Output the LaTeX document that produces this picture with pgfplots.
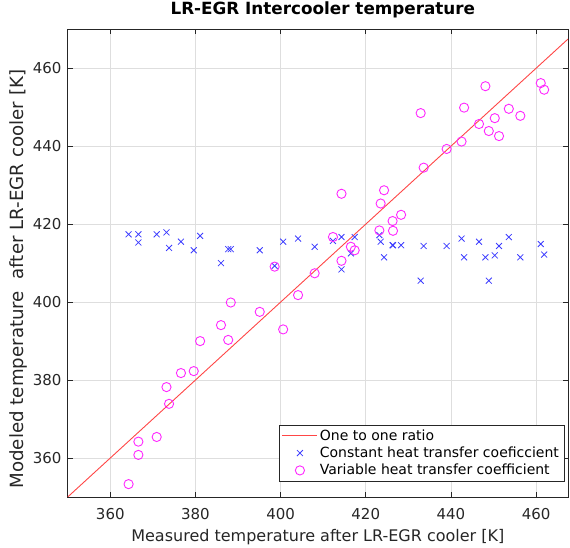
\documentclass[border=0pt]{standalone}
\usepackage{fontspec}
\setmainfont{DejaVu Sans}
\usepackage{pgfplots}
\pgfplotsset{compat=1.18}
\definecolor{axgray}{RGB}{38,38,38}
\definecolor{gridgray}{RGB}{222,222,222}
\definecolor{lineRed}{RGB}{255,70,70}
\definecolor{crossBlue}{RGB}{60,60,255}
\definecolor{circMag}{RGB}{255,40,255}
\pgfplotsset{
  mylineleg/.style={legend image code/.code={\draw[##1] (0pt,0pt) -- (35pt,0pt);}},
  mymarkleg/.style={legend image code/.code={\draw[##1] plot coordinates {(17.5pt,0pt)};}},
}
\begin{document}
\begin{tikzpicture}
\useasboundingbox (-67.7pt,-51pt) rectangle (502.3pt,497pt);
\begin{axis}[
  at={(0pt,0pt)}, anchor=south west,
  scale only axis,
  width=500.3pt, height=467.7pt,
  xmin=350, xmax=467.5, ymin=350, ymax=470,
  xtick={360,380,...,460}, ytick={360,380,...,460},
  grid=major,
  major grid style={gridgray, line width=0.7pt},
  tick align=inside,
  major tick length=5pt,
  axis line style={axgray, line width=0.8pt},
  tick style={axgray, line width=0.8pt},
  /pgf/number format/assume math mode=true,
  ticklabel style={font=\fontsize{15}{17}\selectfont, text=axgray},
  xticklabel style={anchor=base, inner sep=0pt, yshift=-23pt},
  yticklabel style={anchor=east, inner sep=0pt, xshift=-6pt},
  title={\textbf{LR-EGR Intercooler temperature}},
  title style={font=\fontsize{16.8}{18}\selectfont, at={(axis description cs:0.5,1)}, anchor=base, inner sep=0pt, yshift=9pt, xshift=5pt},
  xlabel={Measured temperature after LR-EGR cooler [K]},
  ylabel={Modeled temperature\ \ after LR-EGR cooler [K]},
  label style={text=axgray, inner sep=0pt},
  xlabel style={font=\fontsize{16}{18}\selectfont, at={(axis description cs:0.5,0)}, anchor=base, yshift=-44.7pt},
  ylabel style={font=\fontsize{18.2}{20}\selectfont, at={(axis description cs:0,0.5)}, anchor=base, yshift=44.4pt, xshift=-16pt},
  legend style={at={(0.9926,0.0335)}, anchor=south east, font=\fontsize{14}{16}\selectfont,
    draw=axgray, line width=0.7pt, row sep=1.2pt, inner xsep=3pt, inner ysep=2.5pt,
    nodes={inner sep=2pt}},
  legend cell align=left,
]
\addplot[lineRed, line width=0.9pt, mylineleg] coordinates {(350,350) (467.5,467.5)};
\addlegendentry{One to one ratio}
\addplot[only marks, mark=x, mark size=4.2pt, color=crossBlue, line width=0.8pt, mymarkleg] coordinates {
(364.3,417.4) (366.6,417.4) (366.6,415.3) (370.9,417.4) (373.2,417.9) (373.8,413.9)
(376.6,415.5) (379.6,413.3) (381.1,417.0) (386.0,410.0) (387.7,413.6) (388.3,413.6)
(395.1,413.3) (398.6,409.3) (400.6,415.5) (404.1,416.3) (408.0,414.2) (412.3,415.7)
(414.3,408.4) (414.3,416.7) (416.5,412.5) (417.4,416.7) (423.2,417.2) (423.5,415.5)
(424.3,411.5) (426.3,414.6) (426.4,414.6) (428.3,414.6) (432.9,405.5) (433.6,414.4)
(439.0,414.4) (442.5,416.3) (443.1,411.5) (446.6,415.5) (448.1,411.5) (448.9,405.5)
(450.3,412.0) (451.3,414.4) (453.6,416.7) (456.3,411.5) (461.1,414.9) (461.9,412.2)
};
\addlegendentry{Constant heat transfer coeficcient}
\addplot[only marks, mark=o, mark size=4.6pt, color=circMag, line width=0.9pt, mymarkleg] coordinates {
(364.3,353.3) (366.6,364.2) (366.6,360.8) (370.9,365.4) (373.2,378.2) (373.8,373.9)
(376.6,381.8) (379.6,382.3) (381.1,390.0) (386.0,394.1) (387.7,390.3) (388.3,399.9)
(395.1,397.5) (398.6,409.1) (400.6,393.0) (404.1,401.8) (408.0,407.4) (412.3,416.7)
(414.3,410.6) (414.3,427.8) (416.5,414.2) (417.4,413.3) (423.2,418.4) (423.5,425.3)
(424.3,428.7) (426.3,420.8) (426.4,418.3) (428.3,422.4) (432.9,448.5) (433.6,434.5)
(439.0,439.3) (442.5,441.2) (443.1,449.9) (446.6,445.7) (448.1,455.4) (448.9,443.9)
(450.3,447.2) (451.3,442.6) (453.6,449.6) (456.3,447.8) (461.1,456.2) (461.9,454.5)
};
\addlegendentry{Variable heat transfer coefficient}
\end{axis}
\end{tikzpicture}
\end{document}
